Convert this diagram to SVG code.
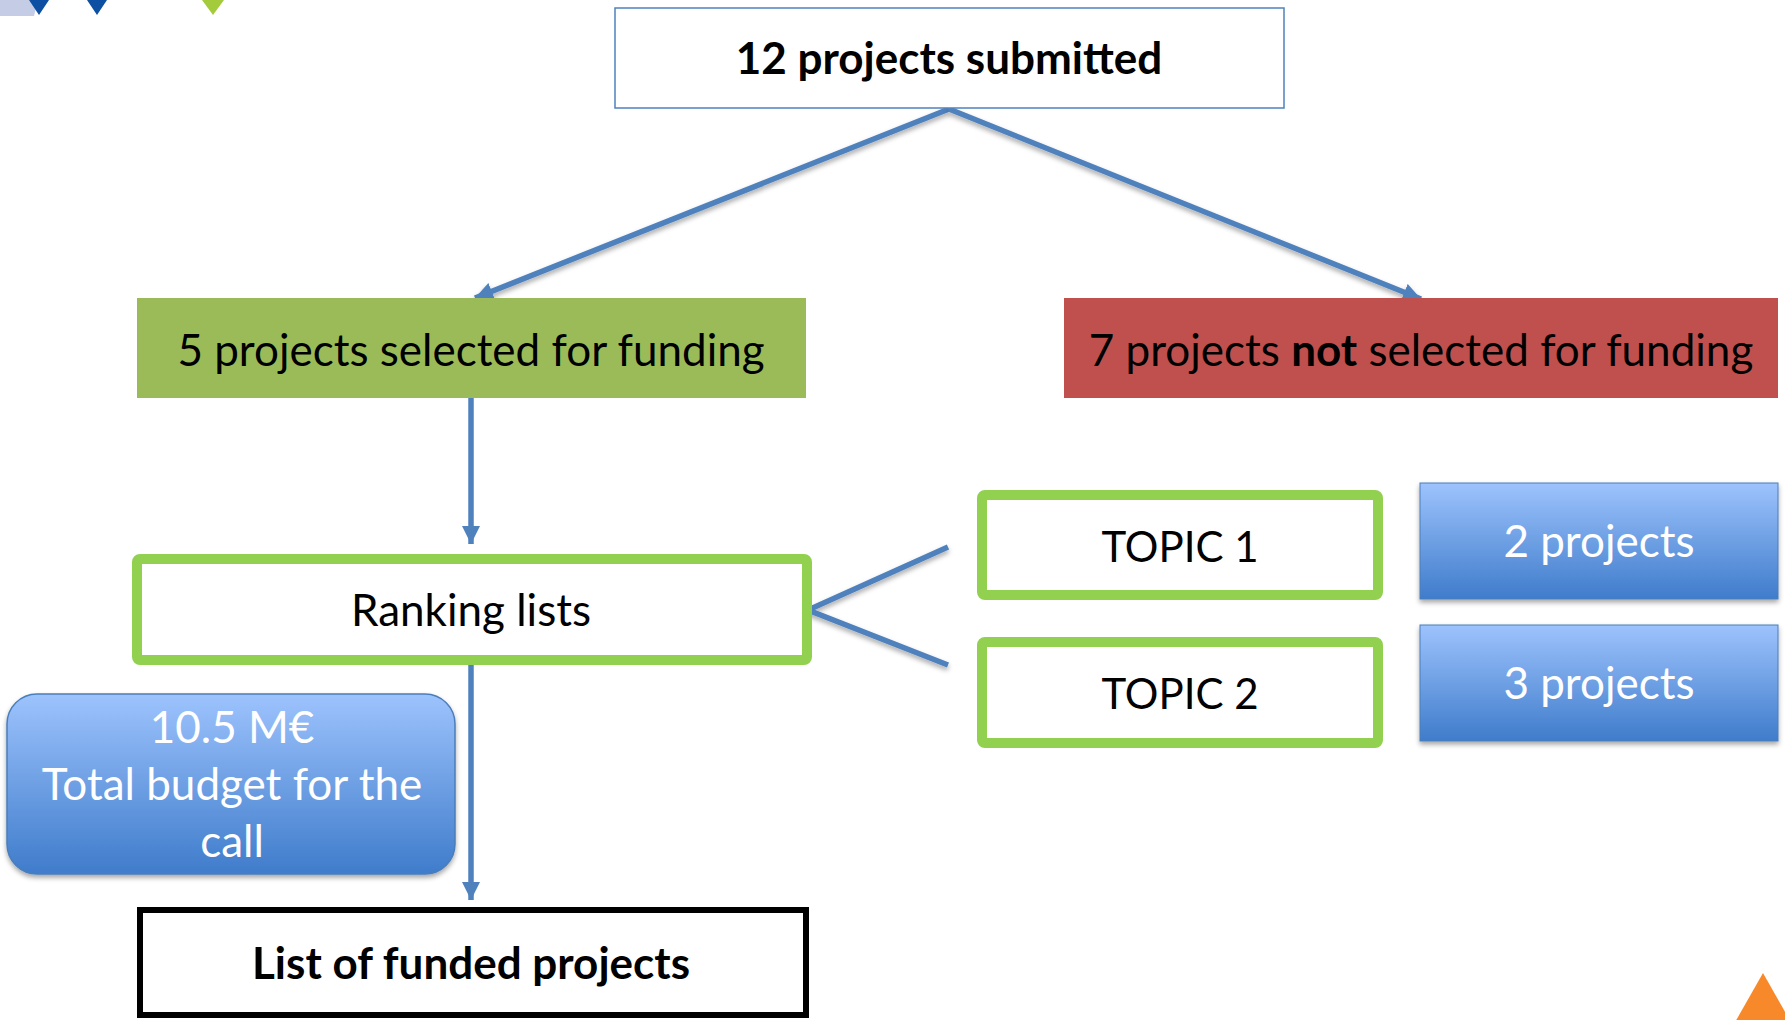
<svg xmlns="http://www.w3.org/2000/svg" width="1785" height="1020" viewBox="0 0 1785 1020">
  <style>
    .t { font-family: Lato, "Open Sans", "Liberation Sans", sans-serif; font-size: 44px; text-anchor: middle; fill: #000; }
    .b { font-weight: bold; }
    .w { fill: #fff; }
    .sm { font-size: 42px; }
    .conn { stroke: #4f81bd; stroke-width: 5.5; fill: none; }
    .topic { fill: #fff; stroke: #92d050; stroke-width: 10; }
  </style>
  <defs>
    <linearGradient id="blueg" x1="0" y1="0" x2="0" y2="1">
      <stop offset="0" stop-color="#9dc3fd"/>
      <stop offset="1" stop-color="#3f7ccb"/>
    </linearGradient>
    <filter id="sh" x="-10%" y="-10%" width="130%" height="140%">
      <feDropShadow dx="0" dy="3" stdDeviation="2.5" flood-color="#000" flood-opacity="0.35"/>
    </filter>
    <marker id="arr" markerUnits="userSpaceOnUse" markerWidth="22" markerHeight="22" refX="18" refY="9" orient="auto">
      <path d="M0,0 L18,9 L0,18 z" fill="#4f81bd"/>
    </marker>
  </defs>

  <!-- decorations -->
  <polygon points="0,0 38,0 34,16 0,16" fill="#c5cce6"/>
  <polygon points="29,0 49,0 39,15" fill="#0d4fa3"/>
  <polygon points="87,0 107,0 97,15" fill="#0d4fa3"/>
  <polygon points="202,0 224,0 213,15" fill="#a4cb3b"/>
  <polygon points="1763,973 1792,1024 1734,1024" fill="#f7892b"/>

  <g id="connectors">
    <line class="conn" x1="949" y1="109" x2="475" y2="298" marker-end="url(#arr)" filter="url(#sh)"/>
    <line class="conn" x1="949" y1="109" x2="1421" y2="299" marker-end="url(#arr)" filter="url(#sh)"/>
    <line class="conn" x1="471" y1="398" x2="471" y2="544" marker-end="url(#arr)"/>
    <line class="conn" x1="471" y1="665" x2="471" y2="900" marker-end="url(#arr)"/>
    <polyline class="conn" points="948,547 808,610 948,665" filter="url(#sh)"/>
  </g>

  <g id="submitted">
    <rect x="615" y="8" width="669" height="100" fill="#fff" stroke="#4f81bd" stroke-width="1.5"/>
    <text class="t b" x="949" y="74">12 projects submitted</text>
  </g>

  <g id="selected">
    <rect x="137" y="298" width="669" height="100" fill="#9bbb59"/>
    <text class="t" x="471" y="366">5 projects selected for funding</text>
  </g>

  <g id="not-selected">
    <rect x="1064" y="298" width="714" height="100" fill="#c0504d"/>
    <text class="t" x="1421" y="366">7 projects <tspan class="b">not</tspan> selected for funding</text>
  </g>

  <g id="ranking">
    <rect class="topic" x="137" y="559" width="670" height="101" rx="3"/>
    <text class="t" x="471" y="626">Ranking lists</text>
  </g>

  <g id="topic1">
    <rect class="topic" x="982" y="495" width="396" height="100" rx="3"/>
    <text class="t sm" x="1180" y="562">TOPIC 1</text>
  </g>

  <g id="topic2">
    <rect class="topic" x="982" y="642" width="396" height="101" rx="3"/>
    <text class="t sm" x="1180" y="709">TOPIC 2</text>
  </g>

  <g id="two-projects">
    <rect x="1420" y="483" width="358" height="116" fill="url(#blueg)" stroke="#4a7ebb" stroke-width="1" filter="url(#sh)"/>
    <text class="t w" x="1599" y="557">2 projects</text>
  </g>

  <g id="three-projects">
    <rect x="1420" y="625" width="358" height="116" fill="url(#blueg)" stroke="#4a7ebb" stroke-width="1" filter="url(#sh)"/>
    <text class="t w" x="1599" y="699">3 projects</text>
  </g>

  <g id="budget">
    <rect x="7" y="694" width="448" height="180" rx="30" fill="url(#blueg)" stroke="#4a7ebb" stroke-width="1.5" filter="url(#sh)"/>
    <text class="t w" x="232" y="743">10.5 M€</text>
    <text class="t w" x="232" y="800">Total budget for the</text>
    <text class="t w" x="232" y="857">call</text>
  </g>

  <g id="funded">
    <rect x="140" y="910" width="666" height="105" fill="#fff" stroke="#000" stroke-width="6"/>
    <text class="t b" x="471" y="979">List of funded projects</text>
  </g>
</svg>
